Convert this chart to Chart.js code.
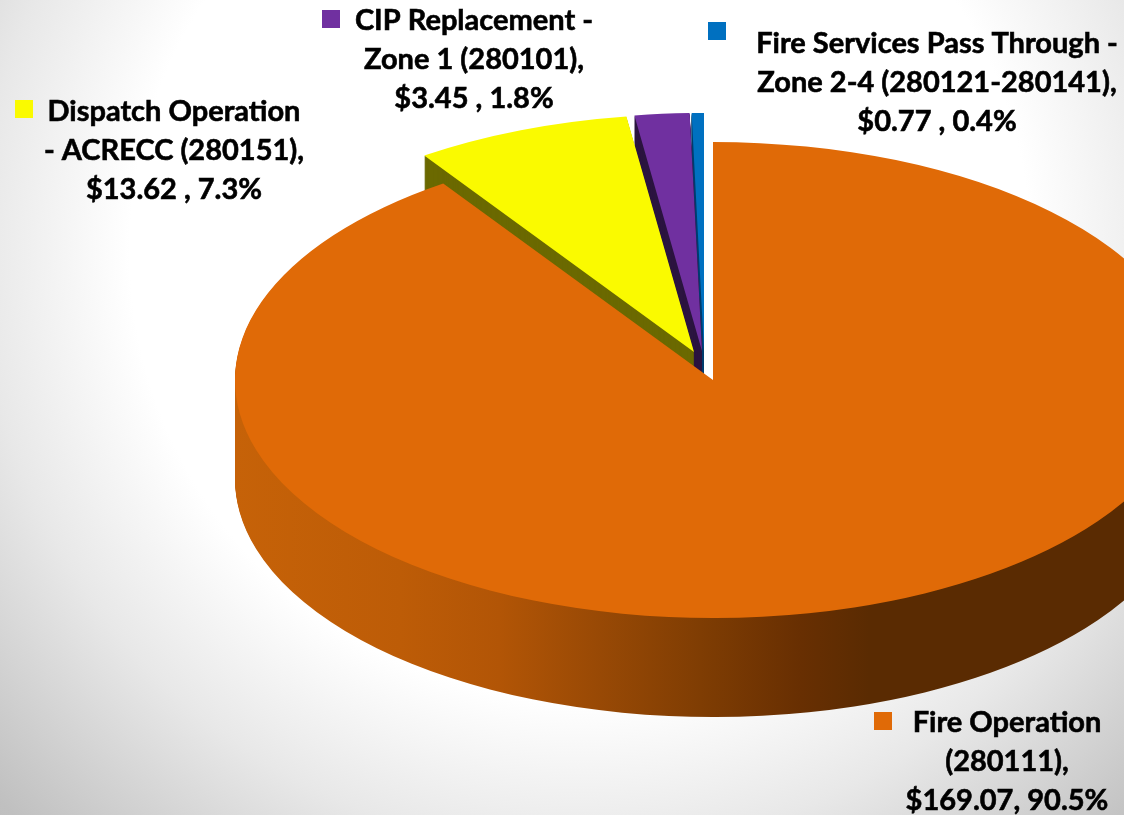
<!DOCTYPE html>
<html>
<head>
<meta charset="utf-8">
<script src="https://cdn.jsdelivr.net/npm/chart.js@4"></script>
<style>
  html, body { margin: 0; padding: 0; width: 1124px; height: 815px; overflow: hidden; }
  body { background: radial-gradient(circle at 580px 250px, #ffffff 0, #ffffff 450px, #e8e8e8 600px, #c0c0c0 800px, #b8b8b8 900px); }
  canvas { display: block; }
</style>
</head>
<body>
<canvas id="pie" width="1124" height="815"></canvas>
<script>
const categories = [
  "Fire Operation (280111)",
  "Dispatch Operation - ACRECC (280151)",
  "CIP Replacement - Zone 1 (280101)",
  "Fire Services Pass Through - Zone 2-4 (280121-280141)",
];
const values = [169.07, 13.62, 3.45, 0.77];
const labelLines = [
  ["Fire Operation", "(280111),", "$169.07, 90.5%"],
  ["Dispatch Operation", "- ACRECC (280151),", "$13.62 , 7.3%"],
  ["CIP Replacement -", "Zone 1 (280101),", "$3.45 , 1.8%"],
  ["Fire Services Pass Through -", "Zone 2-4 (280121-280141),", "$0.77 , 0.4%"],
];
const colors = ["#E06A07", "#FAFA00", "#7030A0", "#0070C0"];
const sideColors = [null, "#6B6900", "#2C1540", "#003F70"];

// label placement: text centre x, first line centre y, legend square x, y
const labelPos = [
  { x: 1007, y: 723, sx: 874, sy: 712 },
  { x: 174, y: 112, sx: 15, sy: 100 },
  { x: 474, y: 21, sx: 322, sy: 10 },
  { x: 937, y: 44, sx: 708, sy: 22 },
];
const explodeX = [0, -19, -11, -9];
const explodeY = [0, -28, -29, -29];
const squash = 238 / 478;
const depth = 99;
const drawOrder = [3, 2, 1, 0];

function orangeWall(ctx) {
  const g = ctx.createLinearGradient(235, 0, 1191, 0);
  g.addColorStop(0, "#C66208");
  g.addColorStop(0.173, "#BD5C07");
  g.addColorStop(0.277, "#B25506");
  g.addColorStop(0.382, "#984905");
  g.addColorStop(0.487, "#7F3D03");
  g.addColorStop(0.591, "#682F02");
  g.addColorStop(0.664, "#5A2B02");
  g.addColorStop(1, "#5A2B02");
  return g;
}

function drawSlice(ctx, arc, i, dy, fill) {
  const saved = arc.options;
  if (fill) {
    const o = Object.create(saved);
    o.backgroundColor = fill;
    arc.options = o;
  }
  ctx.save();
  ctx.translate(arc.x + explodeX[i], arc.y + explodeY[i] + dy);
  ctx.scale(1, squash);
  ctx.translate(-arc.x, -arc.y);
  arc.draw(ctx);
  ctx.restore();
  arc.options = saved;
}

const pie3d = {
  id: "pie3d",
  beforeDatasetDraw(chart, args) {
    const ctx = chart.ctx;
    const arcs = args.meta.data;
    drawOrder.forEach((i) => {
      const side = sideColors[i] || orangeWall(ctx);
      for (let d = depth; d > 0; d--) drawSlice(ctx, arcs[i], i, d, side);
      drawSlice(ctx, arcs[i], i, 0);
    });
    return false;
  },
  afterDraw(chart) {
    const ctx = chart.ctx;
    ctx.save();
    ctx.font = 'bold 29px Lato, "Open Sans", sans-serif';
    ctx.textAlign = "center";
    ctx.textBaseline = "middle";
    ctx.lineWidth = 0.6;
    ctx.strokeStyle = "#000";
    labelLines.forEach((lines, i) => {
      const p = labelPos[i];
      ctx.fillStyle = colors[i];
      ctx.fillRect(p.sx, p.sy, 18, 18);
      ctx.fillStyle = "#000";
      lines.forEach((t, n) => {
        ctx.fillText(t, p.x, p.y + n * 39);
        ctx.strokeText(t, p.x, p.y + n * 39);
      });
    });
    ctx.restore();
  },
};

new Chart(document.getElementById("pie"), {
  type: "pie",
  data: {
    labels: categories,
    datasets: [{ data: values, backgroundColor: colors, borderWidth: 0, radius: 478 }],
  },
  options: {
    responsive: false,
    animation: false,
    devicePixelRatio: 1,
    layout: { padding: { left: 302, bottom: 55 } },
    plugins: { legend: { display: false }, tooltip: { enabled: false } },
  },
  plugins: [pie3d],
});
</script>
</body>
</html>
